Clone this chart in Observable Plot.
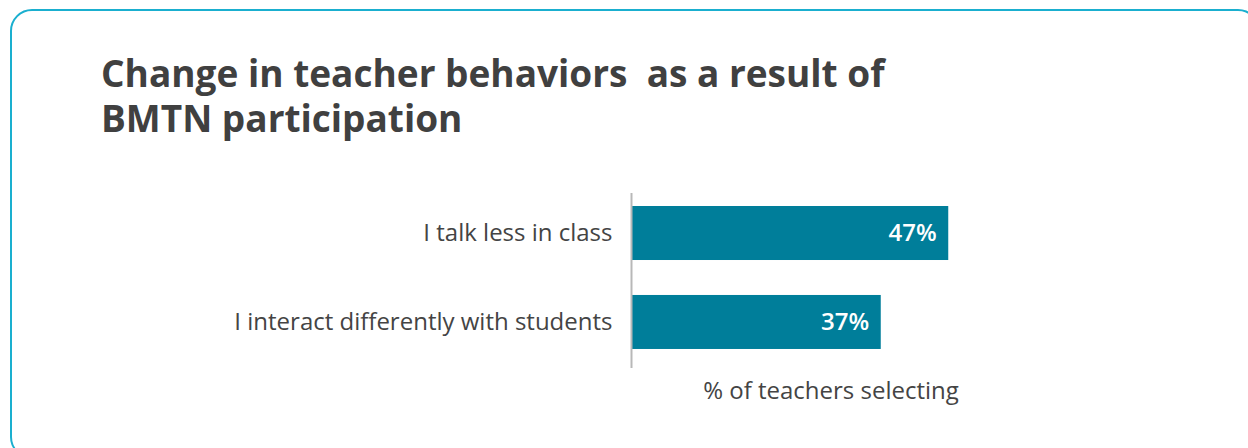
<!DOCTYPE html>
<html>
<head>
<meta charset="utf-8">
<script src="https://cdn.jsdelivr.net/npm/d3@7"></script>
<script src="https://cdn.jsdelivr.net/npm/@observablehq/plot@0.6"></script>
<style>
  html, body { margin: 0; padding: 0; background: #fff; width: 1248px; height: 448px; overflow: hidden; font-family: "Open Sans", sans-serif; }
  #card { position: absolute; left: 10px; top: 9px; width: 1250px; height: 450px; border: 2px solid #1aafcf; border-radius: 22px; box-sizing: border-box; }
  #title { position: absolute; left: 101px; top: 50px; font-size: 37px; line-height: 45px; font-weight: 700; color: #404040; white-space: pre; }
  #chart { position: absolute; left: 0; top: 180px; }
</style>
</head>
<body>
<div id="card"></div>
<div id="title"></div>
<div id="chart"></div>
<script>
const titleLines = ["Change in teacher behaviors  as a result of", "BMTN participation"];
const categories = ["I talk less in class", "I interact differently with students"];
const values = [47, 37];
const valueLabels = ["47%", "37%"];
const xLabel = "% of teachers selecting";

document.getElementById("title").textContent = titleLines.join("\n");

const data = categories.map((c, i) => ({category: c, value: values[i], label: valueLabels[i]}));

const chart = Plot.plot({
  width: 1248,
  height: 240,
  marginLeft: 631,
  marginRight: 212,
  marginTop: 13,
  marginBottom: 52,
  style: {fontFamily: "Open Sans", fontSize: "24px", color: "#404040", background: "transparent"},
  x: {domain: [0, 60], axis: null},
  y: {domain: categories, paddingInner: 0.393, paddingOuter: 0.18, align: 0.406, round: false, label: null},
  marks: [
    Plot.barX(data, {x: "value", y: "category", fill: "#007e9a"}),
    Plot.ruleX([0], {stroke: "#b8b8b8", strokeWidth: 2}),
    Plot.axisY({tickSize: 0, tickPadding: 19, fontSize: 24, fill: "#444", label: null}),
    Plot.text(data, {x: "value", y: "category", text: "label", textAnchor: "end", dx: -12, fill: "#fff", fontSize: 24, fontWeight: 600}),
    Plot.text([xLabel], {frameAnchor: "bottom", dx: -3, dy: 30, fill: "#444", fontSize: 24})
  ]
});
document.getElementById("chart").appendChild(chart);
</script>
</body>
</html>
